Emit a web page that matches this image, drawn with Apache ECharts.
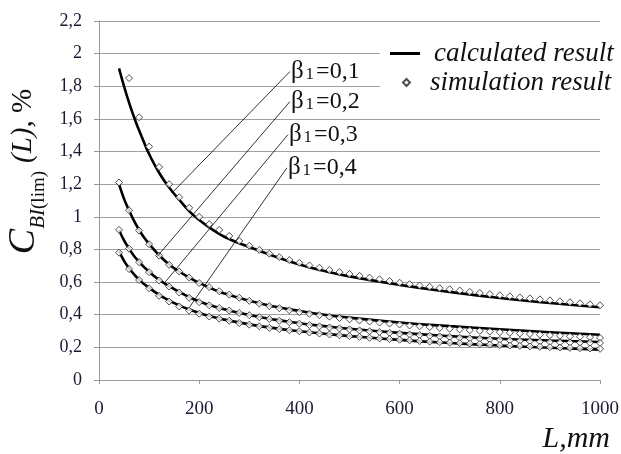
<!DOCTYPE html>
<html><head><meta charset="utf-8">
<script src="https://cdn.jsdelivr.net/npm/echarts@6/dist/echarts.min.js"></script>
<style>html,body{margin:0;padding:0;background:#fff}#c{width:621px;height:454px}</style>
</head><body><div id="c"></div>
<script>
// ---- data ----
const calcL = [40,50,60,70,80,90,100,120,140,160,180,200,225,250,300,350,400,450,500,600,700,800,900,1000];
const calc1 = [1.91,1.80,1.70,1.61,1.53,1.455,1.385,1.27,1.18,1.105,1.035,0.98,0.925,0.878,0.815,0.758,0.708,0.668,0.635,0.583,0.54,0.502,0.472,0.446];
const calc2 = [1.20,1.11,1.04,0.975,0.92,0.873,0.835,0.765,0.708,0.665,0.628,0.595,0.56,0.53,0.485,0.45,0.423,0.40,0.382,0.352,0.33,0.311,0.293,0.277];
const calc3 = [0.92,0.855,0.805,0.76,0.725,0.692,0.663,0.614,0.575,0.54,0.508,0.481,0.455,0.433,0.398,0.37,0.348,0.33,0.314,0.289,0.269,0.253,0.242,0.233];
const calc4 = [0.79,0.73,0.685,0.647,0.615,0.588,0.565,0.522,0.487,0.457,0.432,0.411,0.389,0.37,0.341,0.318,0.299,0.283,0.269,0.246,0.227,0.211,0.198,0.186];

const simL = [40,60,80,100,120,140,160,180,200,220,240,260,280,300,320,340,360,380,400,420,440,460,480,500,520,540,560,580,600,620,640,660,680,700,720,740,760,780,800,820,840,860,880,900,920,940,960,980,1000];
const sim1 = [null,1.85,1.61,1.43,1.305,1.2,1.12,1.055,1.0,0.955,0.92,0.883,0.852,0.822,0.797,0.774,0.753,0.735,0.718,0.702,0.688,0.674,0.661,0.65,0.638,0.627,0.617,0.606,0.596,0.587,0.579,0.571,0.563,0.556,0.548,0.54,0.533,0.526,0.519,0.513,0.506,0.5,0.494,0.488,0.482,0.476,0.47,0.464,0.458];
const sim2 = [1.21,1.04,0.916,0.832,0.762,0.706,0.665,0.628,0.594,0.569,0.544,0.523,0.504,0.485,0.468,0.453,0.44,0.427,0.416,0.406,0.397,0.388,0.38,0.372,0.365,0.358,0.352,0.346,0.34,0.334,0.329,0.324,0.319,0.314,0.31,0.305,0.301,0.297,0.293,0.289,0.285,0.282,0.278,0.275,0.271,0.268,0.265,0.262,0.258];
const sim3 = [0.92,0.805,0.722,0.661,0.61,0.573,0.536,0.504,0.477,0.458,0.441,0.426,0.411,0.397,0.385,0.374,0.363,0.354,0.345,0.337,0.329,0.322,0.316,0.31,0.304,0.299,0.294,0.289,0.284,0.279,0.275,0.271,0.267,0.263,0.259,0.256,0.252,0.249,0.246,0.243,0.24,0.238,0.235,0.233,0.231,0.23,0.229,0.228,0.227];
const sim4 = [0.78,0.68,0.613,0.562,0.516,0.481,0.451,0.426,0.406,0.389,0.376,0.363,0.349,0.339,0.329,0.32,0.312,0.305,0.298,0.291,0.285,0.279,0.274,0.269,0.264,0.259,0.255,0.251,0.247,0.243,0.239,0.235,0.232,0.229,0.226,0.223,0.22,0.217,0.214,0.211,0.209,0.206,0.204,0.201,0.199,0.197,0.195,0.193,0.191];

const betaLabels = ['=0,1','=0,2','=0,3','=0,4'];
const leaderFrom = [[381,1.89],[381,1.706],[377,1.503],[375,1.30]];
const leaderTo   = [[146,1.147],[116,0.757],[132,0.6],[181,0.448]];

// ---- build ----
const SERIF = '"Liberation Serif","Times New Roman",serif';
const pairs = (xs, ys) => xs.map((x,i)=>[x, ys[i]]).filter(p => p[1] != null);
const fmtY = v => { const r = Math.round(v*10)/10; return Number.isInteger(r) ? String(r) : r.toFixed(1).replace('.', ','); };
const fmtX = v => String(Math.round(v));

const calcs = [calc1, calc2, calc3, calc4];
const sims = [sim1, sim2, sim3, sim4];
const series = [];
calcs.forEach((c,i) => {
  const s = {
    name: i === 0 ? 'calculated result' : 'calculated ' + (i+1),
    type: 'line', smooth: true, symbol: 'none', z: 2,
    color: '#000',
    lineStyle: { color: '#000', width: 2.6 },
    data: pairs(calcL, c)
  };
  if (i === 0) {
    s.markLine = {
      silent: true, symbol: 'none', animation: false,
      lineStyle: { color: '#000', width: 0.8, type: 'solid' },
      label: { show: false },
      data: leaderFrom.map((f,k) => [{ coord: f }, { coord: leaderTo[k] }])
    };
    s.markPoint = {
      silent: true, symbol: 'circle', symbolSize: 0, animation: false,
      data: leaderFrom.map((f,k) => ({
        coord: f,
        label: {
          show: true, position: 'right', distance: 1,
          formatter: '{b|β}{s|1}{t|' + betaLabels[k] + '}',
          rich: {
            b: { fontFamily: SERIF, fontSize: 25, color: '#111' },
            s: { fontFamily: SERIF, fontSize: 17, color: '#111', padding: [6,2,0,2] },
            t: { fontFamily: SERIF, fontSize: 24, color: '#111' }
          }
        }
      }))
    };
  }
  series.push(s);
});
sims.forEach((sv,i) => {
  series.push({
    name: i === 0 ? 'simulation result' : 'simulation ' + (i+1),
    type: 'scatter', symbol: 'diamond', symbolSize: 7, z: 3,
    itemStyle: { color: '#fff', borderColor: '#222', borderWidth: 1 },
    data: pairs(simL, sv)
  });
});

const chart = echarts.init(document.getElementById('c'), null, { renderer: 'canvas' });
chart.setOption({
  animation: false,
  backgroundColor: '#fff',
  grid: { left: 99, right: 21, top: 21, bottom: 74, containLabel: false, outerBoundsMode: 'none' },
  legend: [
    { data: [{ name: 'calculated result', icon: 'rect' }], left: 380, top: 37, orient: 'vertical',
      padding: [3, 4, 3, 10], backgroundColor: '#fff', selectedMode: false,
      itemWidth: 30, itemHeight: 3,
      textStyle: { fontFamily: SERIF, fontStyle: 'italic', fontSize: 27, color: '#111', padding: [0,0,0,9] } },
    { data: [{ name: 'simulation result', icon: 'diamond' }], left: 380, top: 66, orient: 'vertical',
      padding: [3, 4, 3, 22], backgroundColor: '#fff', selectedMode: false,
      itemWidth: 7, itemHeight: 7,
      textStyle: { fontFamily: SERIF, fontStyle: 'italic', fontSize: 27, color: '#111', padding: [0,0,0,15] } }
  ],
  xAxis: {
    type: 'value', min: 0, max: 1000, interval: 200,
    axisLine: { show: true, lineStyle: { color: '#999', width: 1 } },
    axisTick: { show: true, length: 4, lineStyle: { color: '#999' } },
    splitLine: { show: false },
    axisLabel: { fontFamily: SERIF, fontSize: 19, color: '#1a1a33', margin: 20, formatter: fmtX },
    name: 'L,mm', nameLocation: 'end', nameGap: 10,
    nameTextStyle: { fontFamily: SERIF, fontStyle: 'italic', fontSize: 30, color: '#111',
      align: 'right', verticalAlign: 'top', padding: [44, 0, 0, 0] }
  },
  yAxis: {
    type: 'value', min: 0, max: 2.2, interval: 0.2,
    axisLine: { show: true, lineStyle: { color: '#999', width: 1 } },
    axisTick: { show: true, length: 5, lineStyle: { color: '#999' } },
    splitLine: { show: true, lineStyle: { color: '#a0a0a0', width: 1 } },
    axisLabel: { fontFamily: SERIF, fontSize: 18, color: '#1a1a33', margin: 17, formatter: fmtY },
    name: '{c|C}{sb|BI}{sl|(lim)}{l|(L)}{p|, %}',
    nameLocation: 'middle', nameRotate: 90, nameGap: 50,
    nameTextStyle: {
      rich: {
        c:  { fontFamily: SERIF, fontStyle: 'italic', fontSize: 38, color: '#111', lineHeight: 50, padding: [0,0,0,58] },
        sb: { fontFamily: SERIF, fontStyle: 'italic', fontSize: 21, color: '#111', lineHeight: 50, verticalAlign: 'bottom' },
        sl: { fontFamily: SERIF, fontSize: 19, color: '#111', lineHeight: 50, verticalAlign: 'bottom' },
        l:  { fontFamily: SERIF, fontStyle: 'italic', fontSize: 29, color: '#111', lineHeight: 50, padding: [0,0,0,8] },
        p:  { fontFamily: SERIF, fontSize: 29, color: '#111', lineHeight: 50 }
      }
    }
  },
  series: series
});
</script></body></html>
